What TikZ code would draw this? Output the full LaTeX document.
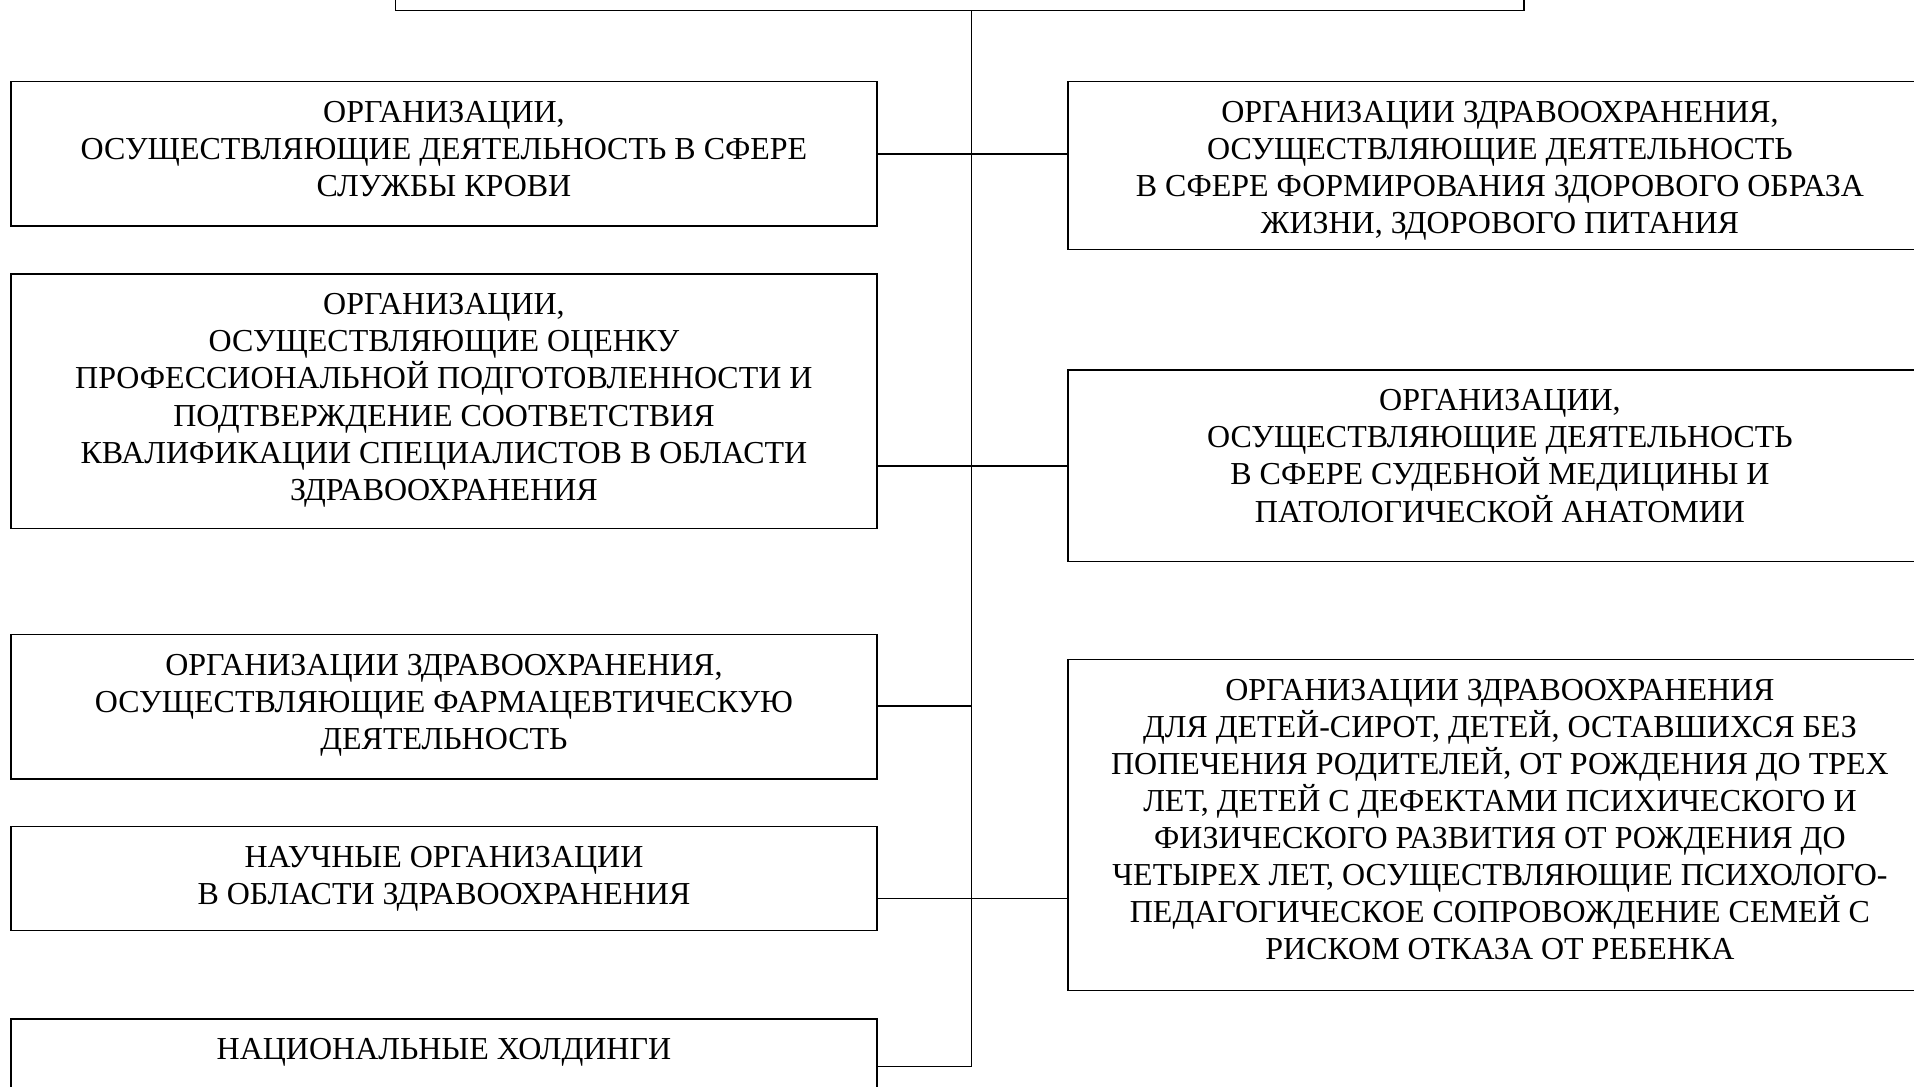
\documentclass[tikz,border=0pt]{standalone}
\usepackage{fontspec}
\setmainfont{Liberation Serif}
\usetikzlibrary{fit}
\begin{document}
\begin{tikzpicture}[x=0.5pt,y=-0.5pt,
  box/.style={draw, line width=0.6pt, inner sep=0pt, outer sep=0pt},
  txt/.style={inner sep=0pt, align=center, anchor=north, font=\fontsize{13.1}{15.2}\selectfont},
  conn/.style={line width=0.6pt}]
\useasboundingbox (0,0) rectangle (1568,890);
\clip (0,0) rectangle (1568,890);
% boxes
\node[box, fit={(324,-60)(1248.5,8.7)}] (T) {};
\node[box, fit={(9,66.9)(718.4,185.1)}] (L1) {};
\node[box, fit={(9,224.5)(718.4,432.8)}] (L2) {};
\node[box, fit={(9,519.7)(718.4,638.2)}] (L3) {};
\node[box, fit={(9,677.2)(718.4,762.4)}] (L4) {};
\node[box, fit={(9,834.8)(718.4,912.8)}] (L5) {};
\node[box, fit={(875,66.9)(1582.6,204.2)}] (R1) {};
\node[box, fit={(875,303.1)(1582.6,459.8)}] (R2) {};
\node[box, fit={(875,540.1)(1582.6,811.6)}] (R3) {};
% texts
\node[txt] (L1t) at ([yshift=-7.8pt]L1.north) {ОРГАНИЗАЦИИ,\\ОСУЩЕСТВЛЯЮЩИЕ ДЕЯТЕЛЬНОСТЬ В СФЕРЕ\\СЛУЖБЫ КРОВИ};
\node[txt] (L2t) at ([yshift=-7.8pt]L2.north) {ОРГАНИЗАЦИИ,\\ОСУЩЕСТВЛЯЮЩИЕ ОЦЕНКУ\\ПРОФЕССИОНАЛЬНОЙ ПОДГОТОВЛЕННОСТИ И\\ПОДТВЕРЖДЕНИЕ СООТВЕТСТВИЯ\\КВАЛИФИКАЦИИ СПЕЦИАЛИСТОВ В ОБЛАСТИ\\ЗДРАВООХРАНЕНИЯ};
\node[txt] (L3t) at ([yshift=-7.8pt]L3.north) {ОРГАНИЗАЦИИ ЗДРАВООХРАНЕНИЯ,\\ОСУЩЕСТВЛЯЮЩИЕ ФАРМАЦЕВТИЧЕСКУЮ\\ДЕЯТЕЛЬНОСТЬ};
\node[txt] (L4t) at ([yshift=-7.8pt]L4.north) {НАУЧНЫЕ ОРГАНИЗАЦИИ\\В ОБЛАСТИ ЗДРАВООХРАНЕНИЯ};
\node[txt] (L5t) at ([yshift=-7.8pt]L5.north) {НАЦИОНАЛЬНЫЕ ХОЛДИНГИ};
\node[txt] (R1t) at ([yshift=-7.8pt]R1.north) {ОРГАНИЗАЦИИ ЗДРАВООХРАНЕНИЯ,\\ОСУЩЕСТВЛЯЮЩИЕ ДЕЯТЕЛЬНОСТЬ\\В СФЕРЕ ФОРМИРОВАНИЯ ЗДОРОВОГО ОБРАЗА\\ЖИЗНИ, ЗДОРОВОГО ПИТАНИЯ};
\node[txt] (R2t) at ([yshift=-7.8pt]R2.north) {ОРГАНИЗАЦИИ,\\ОСУЩЕСТВЛЯЮЩИЕ ДЕЯТЕЛЬНОСТЬ\\В СФЕРЕ СУДЕБНОЙ МЕДИЦИНЫ И\\ПАТОЛОГИЧЕСКОЙ АНАТОМИИ};
\node[txt] (R3t) at ([yshift=-7.8pt]R3.north) {ОРГАНИЗАЦИИ ЗДРАВООХРАНЕНИЯ\\ДЛЯ ДЕТЕЙ-СИРОТ, ДЕТЕЙ, ОСТАВШИХСЯ БЕЗ\\ПОПЕЧЕНИЯ РОДИТЕЛЕЙ, ОТ РОЖДЕНИЯ ДО ТРЕХ\\ЛЕТ, ДЕТЕЙ С ДЕФЕКТАМИ ПСИХИЧЕСКОГО И\\ФИЗИЧЕСКОГО РАЗВИТИЯ ОТ РОЖДЕНИЯ ДО\\ЧЕТЫРЕХ ЛЕТ, ОСУЩЕСТВЛЯЮЩИЕ ПСИХОЛОГО-\\ПЕДАГОГИЧЕСКОЕ СОПРОВОЖДЕНИЕ СЕМЕЙ С\\РИСКОМ ОТКАЗА ОТ РЕБЕНКА};
% junctions
\coordinate (J1) at (796,126.2);
\coordinate (J2) at (796,381.7);
\coordinate (J3) at (796,578.4);
\coordinate (J4) at (796,735.9);
\coordinate (J5) at (796,873.8);
% connectors
\draw[conn] (T.south -| J1) -- (J5);
\draw[conn] (L1.east |- J1) -- (R1.west |- J1);
\draw[conn] (L2.east |- J2) -- (R2.west |- J2);
\draw[conn] (L3.east |- J3) -- (J3);
\draw[conn] (L4.east |- J4) -- (R3.west |- J4);
\draw[conn] (L5.east |- J5) -- (J5);
\end{tikzpicture}
\end{document}
